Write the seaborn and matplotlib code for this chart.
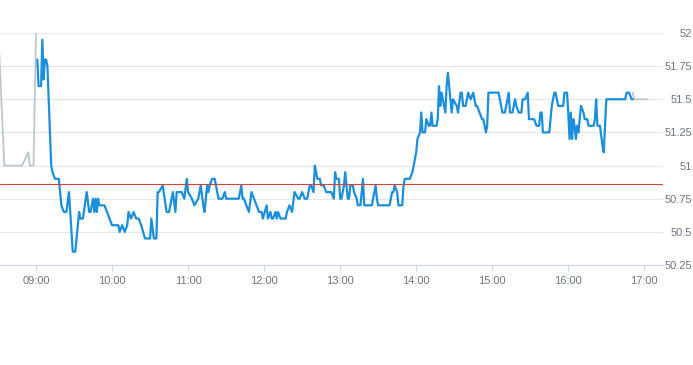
import matplotlib

matplotlib.use("Agg")
import matplotlib.dates as mdates
import matplotlib.pyplot as plt
import pandas as pd
import seaborn as sns

DAY = "2024-01-02 "
PREV_CLOSE = 50.86

# pre-market (grey)
pre_times = ["08:31", "08:35", "08:49", "08:54", "08:55", "08:58", "09:00"]
pre_values = [51.85, 51.0, 51.0, 51.1, 51.0, 51.0, 52.0]

# regular session (blue)
session_times = [
    "09:01", "09:02", "09:04", "09:05", "09:06", "09:07", "09:08", "09:09", "09:12", "09:13",
    "09:15", "09:18", "09:20", "09:22", "09:24", "09:26", "09:27", "09:29", "09:31", "09:34",
    "09:35", "09:37", "09:40", "09:42", "09:43", "09:45", "09:46", "09:47", "09:48", "09:49",
    "09:50", "09:54", "09:56", "10:00", "10:05", "10:06", "10:08", "10:10", "10:12", "10:13",
    "10:15", "10:17", "10:19", "10:21", "10:23", "10:26", "10:30", "10:31", "10:33", "10:35",
    "10:36", "10:37", "10:40", "10:43", "10:45", "10:46", "10:48", "10:50", "10:51", "10:55",
    "10:57", "10:59", "11:00", "11:03", "11:05", "11:08", "11:10", "11:12", "11:13", "11:15",
    "11:16", "11:17", "11:19", "11:21", "11:24", "11:27", "11:29", "11:30", "11:40", "11:42",
    "11:43", "11:44", "11:46", "11:48", "11:50", "11:52", "11:54", "11:56", "11:58", "11:59",
    "12:02", "12:03", "12:05", "12:06", "12:07", "12:09", "12:10", "12:11", "12:13", "12:17",
    "12:18", "12:20", "12:22", "12:24", "12:27", "12:28", "12:30", "12:32", "12:34", "12:36",
    "12:37", "12:39", "12:40", "12:41", "12:42", "12:44", "12:45", "12:47", "12:49", "12:53",
    "12:55", "12:56", "12:57", "12:59", "13:00", "13:01", "13:03", "13:04", "13:06", "13:07",
    "13:08", "13:10", "13:11", "13:13", "13:14", "13:16", "13:18", "13:19", "13:25", "13:26",
    "13:28", "13:29", "13:30", "13:39", "13:41", "13:42", "13:43", "13:45", "13:46", "13:49",
    "13:50", "13:51", "13:53", "13:55", "13:57", "13:58", "14:00", "14:01", "14:03", "14:04",
    "14:05", "14:07", "14:08", "14:10", "14:11", "14:12", "14:13", "14:16", "14:17", "14:18",
    "14:19", "14:20", "14:22", "14:23", "14:24", "14:25", "14:27", "14:28", "14:29", "14:32",
    "14:33", "14:35", "14:36", "14:37", "14:39", "14:40", "14:41", "14:43", "14:45", "14:47",
    "14:48", "14:50", "14:52", "14:53", "14:55", "14:56", "14:57", "15:05", "15:07", "15:08",
    "15:10", "15:12", "15:13", "15:14", "15:16", "15:18", "15:19", "15:21", "15:23", "15:24",
    "15:26", "15:28", "15:29", "15:31", "15:33", "15:35", "15:37", "15:38", "15:39", "15:40",
    "15:45", "15:47", "15:49", "15:50", "15:52", "15:56", "15:57", "15:59", "16:00", "16:01",
    "16:02", "16:03", "16:04", "16:05", "16:06", "16:07", "16:08", "16:09", "16:10", "16:12",
    "16:13", "16:15", "16:16", "16:20", "16:21", "16:22", "16:23", "16:25", "16:27", "16:28",
    "16:30", "16:45", "16:46", "16:48", "16:50", "16:51",
]
session_values = [
    51.8, 51.6, 51.6, 51.95, 51.65, 51.8, 51.8, 51.75, 51.0, 50.95,
    50.9, 50.9, 50.7, 50.65, 50.65, 50.8, 50.65, 50.35, 50.35, 50.65,
    50.6, 50.6, 50.8, 50.65, 50.65, 50.75, 50.65, 50.75, 50.65, 50.75,
    50.7, 50.7, 50.65, 50.55, 50.55, 50.5, 50.55, 50.5, 50.55, 50.65,
    50.6, 50.65, 50.6, 50.6, 50.55, 50.45, 50.45, 50.6, 50.45, 50.45,
    50.8, 50.8, 50.85, 50.65, 50.65, 50.7, 50.8, 50.65, 50.8, 50.8,
    50.75, 50.9, 50.8, 50.75, 50.7, 50.75, 50.85, 50.7, 50.65, 50.85,
    50.8, 50.85, 50.9, 50.9, 50.75, 50.75, 50.8, 50.75, 50.75, 50.85,
    50.75, 50.75, 50.7, 50.65, 50.8, 50.75, 50.7, 50.65, 50.65, 50.6,
    50.7, 50.6, 50.65, 50.6, 50.6, 50.65, 50.6, 50.65, 50.6, 50.6,
    50.65, 50.7, 50.65, 50.8, 50.75, 50.75, 50.8, 50.75, 50.75, 50.85,
    50.85, 50.8, 51.0, 50.95, 50.9, 50.9, 50.85, 50.85, 50.8, 50.8,
    50.75, 50.95, 50.9, 50.9, 50.75, 50.75, 50.85, 50.95, 50.75, 50.75,
    50.85, 50.85, 50.8, 50.75, 50.7, 50.7, 50.9, 50.7, 50.7, 50.75,
    50.85, 50.75, 50.7, 50.7, 50.8, 50.8, 50.85, 50.8, 50.7, 50.7,
    50.85, 50.9, 50.9, 50.9, 50.95, 51.0, 51.1, 51.2, 51.25, 51.4,
    51.25, 51.25, 51.35, 51.3, 51.3, 51.4, 51.3, 51.3, 51.35, 51.6,
    51.45, 51.55, 51.45, 51.4, 51.6, 51.7, 51.5, 51.4, 51.5, 51.45,
    51.4, 51.55, 51.55, 51.45, 51.45, 51.5, 51.55, 51.5, 51.55, 51.45,
    51.45, 51.4, 51.35, 51.35, 51.25, 51.3, 51.55, 51.55, 51.45, 51.4,
    51.4, 51.5, 51.55, 51.4, 51.4, 51.5, 51.45, 51.4, 51.4, 51.5,
    51.5, 51.55, 51.35, 51.35, 51.35, 51.3, 51.3, 51.4, 51.4, 51.25,
    51.25, 51.45, 51.55, 51.55, 51.45, 51.45, 51.55, 51.55, 51.4, 51.2,
    51.4, 51.2, 51.35, 51.3, 51.2, 51.3, 51.25, 51.35, 51.45, 51.4,
    51.35, 51.35, 51.3, 51.3, 51.35, 51.5, 51.3, 51.3, 51.15, 51.1,
    51.5, 51.5, 51.55, 51.55, 51.5, 51.5,
]

# after-hours (grey)
post_times = ["16:51", "16:52", "17:02"]
post_values = [51.55, 51.5, 51.5]

y_ticks = [50.25, 50.5, 50.75, 51, 51.25, 51.5, 51.75, 52]


def to_frame(times, values):
    return pd.DataFrame({"time": pd.to_datetime([DAY + t for t in times]), "price": values})


sns.set_theme(style="white")
plt.rcParams["font.family"] = ["Liberation Sans", "DejaVu Sans"]

fig = plt.figure(figsize=(6.93, 3.65), dpi=100)
ax = fig.add_axes([0, 0.274, 663 / 693, 0.6356])

grey = "#bcc6ce"
sns.lineplot(data=to_frame(pre_times, pre_values), x="time", y="price", ax=ax,
             color=grey, linewidth=1.3)
sns.lineplot(data=to_frame(post_times, post_values), x="time", y="price", ax=ax,
             color=grey, linewidth=1.3)
sns.lineplot(data=to_frame(session_times, session_values), x="time", y="price", ax=ax,
             color="#1a8fdd", linewidth=1.6)
ax.axhline(PREV_CLOSE, color="#d9403a", linewidth=0.8, zorder=3)

ax.set_xlim(pd.Timestamp(DAY + "08:31:35"), pd.Timestamp(DAY + "17:14:45"))
ax.set_ylim(50.25, 52)

# grid and axes
ax.set_yticks(y_ticks)
ax.yaxis.set_major_formatter(matplotlib.ticker.FuncFormatter(lambda v, p: f"{v:g}"))
ax.grid(axis="y", color="#e3e6ea", linewidth=0.8)
ax.grid(axis="x", visible=False)
for side in ["top", "left", "right"]:
    ax.spines[side].set_visible(False)
ax.spines["bottom"].set_color("#ccd6eb")
ax.spines["bottom"].set_linewidth(0.8)

ax.yaxis.tick_right()
ax.tick_params(axis="y", length=0, pad=21, labelsize=8, labelcolor="#6d7681")
for label in ax.get_yticklabels():
    label.set_horizontalalignment("right")

ax.xaxis.set_major_locator(mdates.HourLocator())
ax.xaxis.set_major_formatter(mdates.DateFormatter("%H:%M"))
ax.tick_params(axis="x", bottom=True, length=4, width=0.8, color="#ccd6eb",
               pad=4, labelsize=8, labelcolor="#6d7681")
ax.set_xlabel("")
ax.set_ylabel("")

fig.savefig("out.png", dpi=100)
